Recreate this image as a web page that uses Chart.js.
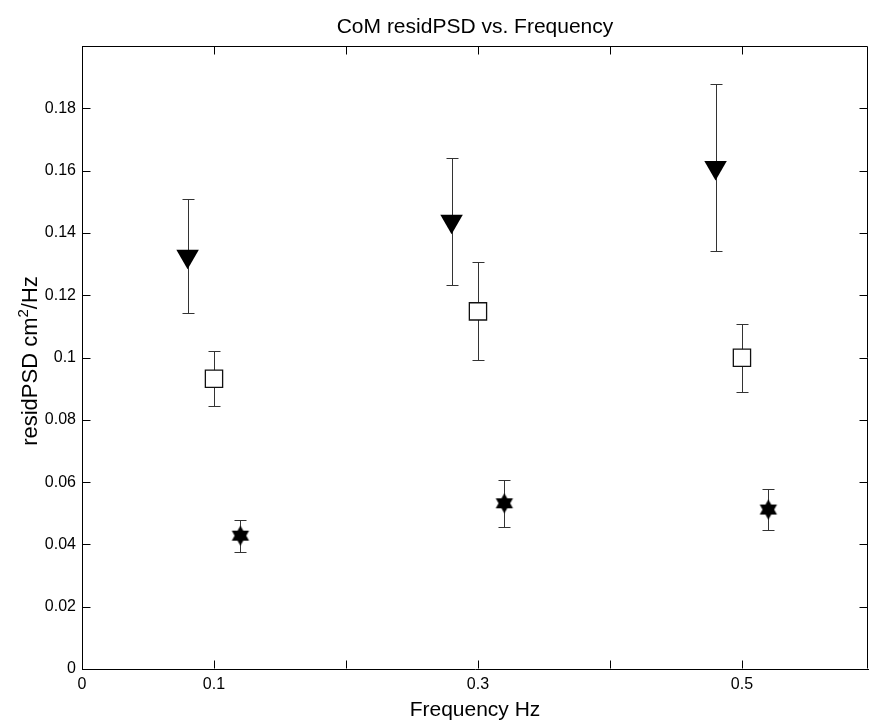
<!DOCTYPE html>
<html>
<head>
<meta charset="utf-8">
<script src="https://cdn.jsdelivr.net/npm/chart.js@4.4.1/dist/chart.umd.min.js"></script>
<style>
  html, body { margin: 0; padding: 0; background: #fff; overflow: hidden; }
  #wrap { width: 869px; height: 724px; }
</style>
</head>
<body>
<div id="wrap"><canvas id="psdChart" width="869" height="724"></canvas></div>
<script>
/* ---- datos ---- */
const xTickLabels = ['0', '0.1', '', '0.3', '', '0.5', ''];
const yTickLabels = ['0', '0.02', '0.04', '0.06', '0.08', '0.1', '0.12', '0.14', '0.16', '0.18', ''];

// triangulos (negros, hacia abajo)
const triX = [0.08, 0.28, 0.48];
const triY = [0.1325, 0.1437, 0.1610];
const triErr = [0.0183, 0.0205, 0.0268];

// cuadrados (blancos)
const sqX = [0.1, 0.3, 0.5];
const sqY = [0.0932, 0.1148, 0.0999];
const sqErr = [0.0089, 0.0157, 0.0109];

// hexagramas (negros)
const hexX = [0.12, 0.32, 0.52];
const hexY = [0.0428, 0.0532, 0.0512];
const hexErr = [0.0051, 0.0075, 0.0067];

const FONT = 'Liberation Sans, Arial, Helvetica, sans-serif';

/* ---- marcador hexagrama ---- */
function makeHexagram(R) {
    const size = Math.ceil(R * 2 + 2);
    const c = document.createElement('canvas');
    c.width = size; c.height = size;
    const g = c.getContext('2d');
    const cx = size / 2, cy = size / 2;
    g.fillStyle = '#000';
    [-90, 90].forEach(start => {
        g.beginPath();
        for (let k = 0; k < 3; k++) {
            const a = (start + k * 120) * Math.PI / 180;
            const px = cx + R * Math.cos(a), py = cy + R * Math.sin(a);
            if (k === 0) g.moveTo(px, py); else g.lineTo(px, py);
        }
        g.closePath();
        g.fill();
    });
    return c;
}

function toPoints(xs, ys, es) {
    return xs.map((x, i) => ({ x: x, y: ys[i], err: es[i] }));
}

/* ---- barras de error ---- */
const errorBars = {
    id: 'errorBars',
    beforeDatasetsDraw(chart) {
        const ctx = chart.ctx;
        const xs = chart.scales.x, ys = chart.scales.y;
        ctx.save();
        ctx.strokeStyle = '#333';
        ctx.lineWidth = 1;
        chart.data.datasets.forEach(ds => {
            ds.data.forEach(p => {
                const px = Math.round(xs.getPixelForValue(p.x)) + 0.5;
                const top = Math.round(ys.getPixelForValue(p.y + p.err)) + 0.5;
                const bot = Math.round(ys.getPixelForValue(p.y - p.err)) + 0.5;
                ctx.beginPath();
                ctx.moveTo(px, top); ctx.lineTo(px, bot);
                ctx.moveTo(px - 6, top); ctx.lineTo(px + 6, top);
                ctx.moveTo(px - 6, bot); ctx.lineTo(px + 6, bot);
                ctx.stroke();
            });
        });
        ctx.restore();
    }
};

/* ---- caja, ticks hacia adentro y textos ---- */
const matlabBox = {
    id: 'matlabBox',
    afterDraw(chart) {
        const ctx = chart.ctx;
        const a = chart.chartArea;
        const xs = chart.scales.x, ys = chart.scales.y;
        const L = Math.round(a.left) + 0.5, R = Math.round(a.right) - 0.5;
        const T = Math.round(a.top) + 0.5, B = Math.round(a.bottom) - 0.5;
        ctx.save();
        ctx.strokeStyle = '#000';
        ctx.lineWidth = 1;
        ctx.beginPath();
        ctx.moveTo(L, T); ctx.lineTo(R, T); ctx.lineTo(R, B);
        ctx.stroke();

        const tl = 8;
        ctx.beginPath();
        xs.ticks.forEach(t => {
            const px = Math.round(xs.getPixelForValue(t.value)) + 0.5;
            if (px <= L + 1 || px >= R - 1) return;
            ctx.moveTo(px, B); ctx.lineTo(px, B - tl);
            ctx.moveTo(px, T); ctx.lineTo(px, T + tl);
        });
        ys.ticks.forEach(t => {
            const py = Math.round(ys.getPixelForValue(t.value)) + 0.5;
            if (py <= T + 1 || py >= B - 1) return;
            ctx.moveTo(L, py); ctx.lineTo(L + tl, py);
            ctx.moveTo(R, py); ctx.lineTo(R - tl, py);
        });
        ctx.stroke();

        ctx.fillStyle = '#000';
        ctx.textAlign = 'center';
        ctx.textBaseline = 'alphabetic';
        ctx.font = '21px ' + FONT;
        ctx.fillText('CoM residPSD vs. Frequency', (a.left + a.right) / 2, 33);
        ctx.fillText('Frequency Hz', (a.left + a.right) / 2, 716);

        // titulo Y con superindice (cm^2)
        ctx.translate(37, 361);
        ctx.rotate(-Math.PI / 2);
        ctx.textAlign = 'left';
        const big = '22px ' + FONT, small = '15px ' + FONT;
        const parts = [['residPSD cm', big, 0], ['2', small, -9], ['/Hz', big, 0]];
        let total = 0;
        parts.forEach(p => { ctx.font = p[1]; total += ctx.measureText(p[0]).width; });
        let cx = -total / 2;
        parts.forEach(p => {
            ctx.font = p[1];
            ctx.fillText(p[0], cx, p[2]);
            cx += ctx.measureText(p[0]).width;
        });
        ctx.restore();
    }
};

new Chart(document.getElementById('psdChart').getContext('2d'), {
    type: 'scatter',
    data: {
        datasets: [
            {
                label: 'tri',
                data: toPoints(triX, triY, triErr),
                pointStyle: 'triangle',
                rotation: 180,
                pointRadius: 13,
                backgroundColor: '#000',
                borderColor: '#000',
                borderWidth: 0
            },
            {
                label: 'sq',
                data: toPoints(sqX, sqY, sqErr),
                pointStyle: 'rect',
                pointRadius: 12.2,
                backgroundColor: '#fff',
                borderColor: '#111',
                borderWidth: 1.3
            },
            {
                label: 'hex',
                data: toPoints(hexX, hexY, hexErr),
                pointStyle: makeHexagram(10),
                pointRadius: 10,
                backgroundColor: '#000',
                borderColor: '#000'
            }
        ]
    },
    options: {
        responsive: false,
        animation: false,
        events: [],
        layout: { autoPadding: false, padding: { top: 46, right: 1, left: 0, bottom: 0 } },
        plugins: { legend: { display: false }, tooltip: { enabled: false }, title: { display: false } },
        scales: {
            x: {
                type: 'linear',
                min: 0, max: 0.5955,
                grid: { display: false, drawTicks: false },
                border: { display: true, color: '#000', width: 1 },
                ticks: {
                    stepSize: 0.1,
                    autoSkip: false,
                    maxRotation: 0,
                    padding: 6,
                    color: '#000',
                    font: { family: FONT, size: 16 },
                    callback: (v, i) => xTickLabels[i]
                },
                afterFit: s => { s.height = 55; s.paddingLeft = 0; s.paddingRight = 0; }
            },
            y: {
                type: 'linear',
                min: 0, max: 0.2,
                grid: { display: false, drawTicks: false },
                border: { display: true, color: '#000', width: 1 },
                ticks: {
                    stepSize: 0.02,
                    autoSkip: false,
                    padding: 6,
                    color: '#000',
                    font: { family: FONT, size: 16 },
                    callback: (v, i) => yTickLabels[i]
                },
                afterFit: s => { s.width = 82; s.paddingTop = 0; s.paddingBottom = 0; }
            }
        }
    },
    plugins: [errorBars, matlabBox]
});
</script>
</body>
</html>
